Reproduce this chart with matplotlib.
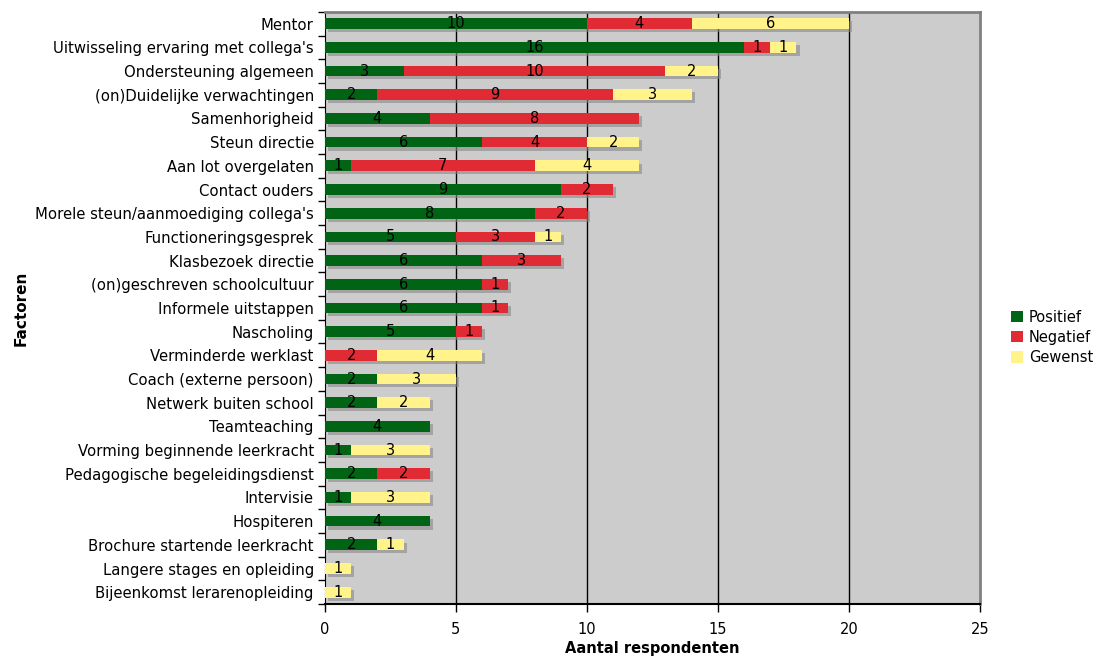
import numpy as np
import matplotlib
matplotlib.use('Agg')
import matplotlib.pyplot as plt
import matplotlib.patheffects as pe
from matplotlib.patches import Patch

factoren = [
    "Mentor",
    "Uitwisseling ervaring met collega's",
    "Ondersteuning algemeen",
    "(on)Duidelijke verwachtingen",
    "Samenhorigheid",
    "Steun directie",
    "Aan lot overgelaten",
    "Contact ouders",
    "Morele steun/aanmoediging collega's",
    "Functioneringsgesprek",
    "Klasbezoek directie",
    "(on)geschreven schoolcultuur",
    "Informele uitstappen",
    "Nascholing",
    "Verminderde werklast",
    "Coach (externe persoon)",
    "Netwerk buiten school",
    "Teamteaching",
    "Vorming beginnende leerkracht",
    "Pedagogische begeleidingsdienst",
    "Intervisie",
    "Hospiteren",
    "Brochure startende leerkracht",
    "Langere stages en opleiding",
    "Bijeenkomst lerarenopleiding",
]
positief = [10, 16, 3, 2, 4, 6, 1, 9, 8, 5, 6, 6, 6, 5, 0, 2, 2, 4, 1, 2, 1, 4, 2, 0, 0]
negatief = [4, 1, 10, 9, 8, 4, 7, 2, 2, 3, 3, 1, 1, 1, 2, 0, 0, 0, 0, 2, 0, 0, 0, 0, 0]
gewenst = [6, 1, 2, 3, 0, 2, 4, 0, 0, 1, 0, 0, 0, 0, 4, 3, 2, 0, 3, 0, 3, 0, 1, 1, 1]

series = [("Positief", positief, "#006414"),
          ("Negatief", negatief, "#e02b35"),
          ("Gewenst", gewenst, "#fff38a")]

fig = plt.figure(figsize=(10.96, 6.58), dpi=100)
ax = fig.add_axes([0.2965, 0.082, 0.5975, 0.9])
ax.set_facecolor("#cccccc")

y = np.arange(len(factoren))
shadow = [pe.SimplePatchShadow(offset=(2.2, -2.2), shadow_rgbFace="#888888", alpha=0.6),
          pe.Normal()]

left = np.zeros(len(factoren))
for name, vals, color in series:
    vals = np.array(vals, dtype=float)
    bars = ax.barh(y, vals, left=left, height=0.45, color=color, zorder=3)
    for b in bars:
        b.set_path_effects(shadow)
    for yi, l, v in zip(y, left, vals):
        if v > 0:
            ax.text(l + v / 2, yi, f"{int(v)}", ha="center", va="center",
                    fontsize=10.5, color="black", zorder=4)
    left += vals

ax.set_xlim(0, 25)
ax.set_ylim(len(factoren) - 0.5, -0.5)
ax.set_xticks([0, 5, 10, 15, 20, 25])
ax.set_yticks(y)
ax.set_yticklabels(factoren, fontsize=10.7)
ax.set_yticks(np.arange(len(factoren) + 1) - 0.5, minor=True)
ax.tick_params(axis="y", which="major", length=0, pad=8)
ax.tick_params(axis="y", which="minor", length=5, width=1, direction="out")
ax.tick_params(axis="x", length=6, width=1, labelsize=10.5, pad=7)
for xv in [5, 10, 15, 20]:
    ax.axvline(xv, color="black", linewidth=1, zorder=1)

ax.spines["left"].set_color("black")
ax.spines["bottom"].set_color("black")
ax.spines["bottom"].set_linewidth(1.5)
ax.spines["top"].set_color("#808080")
ax.spines["right"].set_color("#808080")
ax.spines["top"].set_linewidth(2)
ax.spines["right"].set_linewidth(2)

ax.set_xlabel("Aantal respondenten", fontsize=10.5, fontweight="bold", labelpad=3)
ax.set_ylabel("Factoren", fontsize=11, fontweight="bold")
ax.yaxis.set_label_coords(-0.452, 0.5)

handles = [Patch(facecolor=c, edgecolor="none", label=n) for n, _, c in series]
fig.legend(handles=handles, loc="upper left", bbox_to_anchor=(0.917, 0.538),
           frameon=False, fontsize=10.5, handlelength=0.8, handleheight=0.8,
           handletextpad=0.45, labelspacing=0.35, borderaxespad=0)

fig.savefig("out.png", dpi=100)
